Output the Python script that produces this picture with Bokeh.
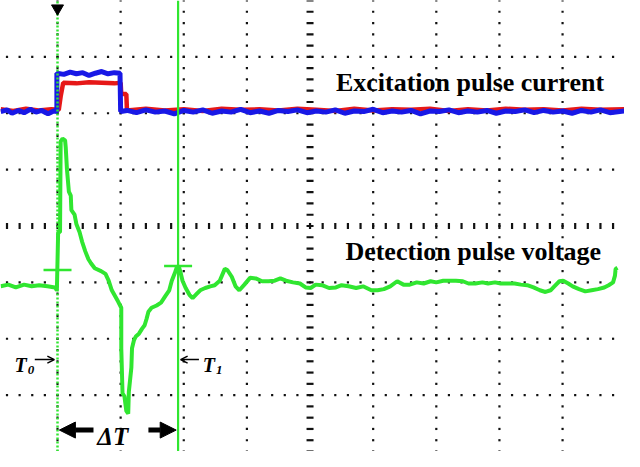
import numpy as np
from bokeh.plotting import figure
from bokeh.models import Range1d, Arrow, NormalHead, OpenHead
from bokeh.core.properties import value
from bokeh.embed import file_html
from bokeh.resources import INLINE

# ---- data (time and amplitude in screen divisions) ----
h_grid = [-3, -2, -1, 1, 2, 3]
v_grid = [-4, -3, -2, -1, 1, 2, 3, 4]

blue_t = [-4.90, -4.80, -4.72, -4.62, -4.53, -4.43, -4.34, -4.25, -4.15, -4.06, -4.01,
          -4.01, -3.90, -3.80, -3.70, -3.60, -3.50, -3.40, -3.30, -3.20, -3.10, -3.01,
          -3.00, -2.90, -2.75, -2.60, -2.45, -2.30, -2.15, -2.00, -1.85, -1.70, -1.55,
          -1.40, -1.25, -1.10, -0.95, -0.80, -0.65, -0.50, -0.35, -0.20, -0.05, 0.10,
          0.25, 0.40, 0.55, 0.70, 0.85, 1.00, 1.15, 1.30, 1.45, 1.60, 1.75, 1.90, 2.05,
          2.20, 2.35, 2.50, 2.65, 2.80, 2.95, 3.10, 3.25, 3.40, 3.55, 3.70, 3.85, 4.00,
          4.15, 4.30, 4.45, 4.60, 4.75, 4.98]
blue_v = [2.03, 2.06, 2.00, 2.05, 2.01, 2.07, 2.02, 2.05, 1.99, 2.04, 2.03,
          2.71, 2.69, 2.73, 2.70, 2.72, 2.67, 2.71, 2.74, 2.70, 2.72, 2.71,
          2.03, 2.05, 2.01, 2.06, 2.02, 2.04, 1.99, 2.05, 2.02, 2.06, 2.00,
          2.04, 2.02, 2.07, 2.01, 2.04, 2.00, 2.05, 2.03, 2.06, 2.01, 2.04,
          2.02, 2.06, 2.00, 2.04, 2.03, 2.07, 2.01, 2.04, 2.02, 2.05, 1.99, 2.04,
          2.03, 2.06, 2.01, 2.04, 2.02, 2.05, 2.00, 2.04, 2.03, 2.06, 2.01, 2.05,
          2.02, 2.04, 2.00, 2.05, 2.02, 2.06, 2.01, 2.04]

red_t = [-4.90, -4.70, -4.50, -4.30, -4.10, -3.98, -3.95, -3.91, -3.70, -3.50, -3.30,
         -3.10, -3.00, -2.99, -2.91, -2.90, -2.60, -2.30, -2.00, -1.70, -1.40, -1.10,
         -0.80, -0.50, -0.20, 0.10, 0.40, 0.70, 1.00, 1.30, 1.60, 1.90, 2.20, 2.50,
         2.80, 3.10, 3.40, 3.70, 4.00, 4.30, 4.60, 4.98]
red_v = [2.07, 2.04, 2.08, 2.05, 2.07, 2.06, 2.30, 2.54, 2.53, 2.55, 2.54,
         2.53, 2.54, 2.34, 2.34, 2.05, 2.08, 2.05, 2.07, 2.04, 2.08, 2.06,
         2.07, 2.05, 2.08, 2.06, 2.04, 2.08, 2.05, 2.07, 2.06, 2.08, 2.04, 2.07,
         2.05, 2.08, 2.06, 2.07, 2.05, 2.08, 2.06, 2.07]

green_t = [-4.90, -4.78, -4.66, -4.53, -4.41, -4.29, -4.16, -4.04, -4.01, -3.99, -3.96,
           -3.95, -3.92, -3.88, -3.87, -3.85, -3.82, -3.79, -3.78, -3.73, -3.70, -3.65,
           -3.61, -3.56, -3.51, -3.47, -3.41, -3.31, -3.24, -3.19, -3.14, -3.08, -3.04,
           -2.99, -2.99, -2.97, -2.94, -2.91, -2.88, -2.87, -2.83, -2.82, -2.79, -2.76,
           -2.71, -2.66, -2.62, -2.59, -2.56, -2.51, -2.43, -2.36, -2.29, -2.23, -2.19,
           -2.14, -2.11, -2.08, -2.05, -2.02, -1.97, -1.91, -1.86, -1.80, -1.74, -1.66,
           -1.58, -1.51, -1.43, -1.35, -1.31, -1.24, -1.18, -1.12, -1.04, -0.95, -0.86,
           -0.76, -0.66, -0.56, -0.47, -0.38, -0.27, -0.16, -0.07, 0.01, 0.09, 0.19,
           0.30, 0.41, 0.50, 0.61, 0.73, 0.84, 0.97, 1.07, 1.17, 1.27, 1.38, 1.48, 1.58,
           1.69, 1.80, 1.91, 2.00, 2.11, 2.20, 2.31, 2.42, 2.51, 2.62, 2.73, 2.82, 2.93,
           3.02, 3.13, 3.24, 3.34, 3.44, 3.54, 3.64, 3.73, 3.81, 3.87, 3.95, 4.01, 4.09,
           4.16, 4.26, 4.36, 4.46, 4.56, 4.66, 4.73, 4.80, 4.83, 4.84, 4.87]
green_v = [-1.07, -1.04, -1.09, -1.04, -1.07, -1.05, -1.07, -1.09, -1.14, -0.11, -0.11,
           1.50, 1.55, 1.52, 1.40, 1.00, 0.61, 0.54, 0.28, 0.20, 0.03, -0.11,
           -0.28, -0.45, -0.59, -0.66, -0.75, -0.80, -0.85, -0.97, -1.14, -1.26, -1.34,
           -1.45, -2.17, -2.97, -3.02, -3.28, -3.33, -2.94, -2.51, -2.17, -2.03, -1.96,
           -1.91, -1.82, -1.76, -1.65, -1.52, -1.45, -1.41, -1.36, -1.24, -1.14, -0.97,
           -0.83, -0.73, -0.71, -0.83, -0.97, -1.10, -1.22, -1.28, -1.21, -1.14, -1.10,
           -1.07, -1.05, -0.97, -0.76, -0.78, -0.90, -1.07, -1.14, -1.04, -0.92, -0.93,
           -0.98, -0.98, -0.97, -0.93, -0.97, -1.00, -1.02, -1.09, -1.10, -1.04, -1.05,
           -1.10, -1.09, -1.05, -1.07, -1.10, -1.07, -1.14, -1.14, -1.12, -1.07, -0.98, -1.04, -1.04,
           -1.00, -1.02, -0.98, -1.00, -0.97, -0.97, -0.97, -0.98, -1.02, -1.02, -1.00, -1.02, -1.00,
           -1.02, -1.02, -1.02, -1.04, -1.05, -1.09, -1.14, -1.17, -1.14, -1.07, -0.98, -0.97, -1.02,
           -1.07, -1.12, -1.16, -1.14, -1.12, -1.09, -1.05, -1.00, -0.88, -0.76, -0.74]

t0 = -4.0
t1 = -2.09
cursor_t = [-4.0, -2.09]
cursor_v = [-0.78, -0.71]

GREEN = "#30e630"
BLUE = "#1818e6"
RED = "#e61818"

X0, X1 = -4.903, 4.981
Y0, Y1 = -4.0, 4.0

p = figure(width=624, height=451, x_range=Range1d(X0, X1), y_range=Range1d(Y0, Y1),
           output_backend="svg", toolbar_location=None, x_axis_location=None, y_axis_location=None,
           min_border=0, outline_line_color=None, background_fill_color="white")
p.grid.visible = False

# ---- graticule ----
xm = np.arange(-25, 26) * 0.2
ym = np.arange(-20, 21) * 0.2
hx, hy = np.meshgrid(xm, h_grid)
p.rect(hx.ravel(), hy.ravel(), width=2.2, height=2.2, width_units="screen", height_units="screen",
       fill_color="#111111", line_color=None)
vx, vy = np.meshgrid(v_grid, ym)
p.rect(vx.ravel(), vy.ravel(), width=2.2, height=2.2, width_units="screen", height_units="screen",
       fill_color="#111111", line_color=None)
# centre lines with tick marks
p.rect(xm, np.zeros_like(xm), width=2.2, height=6, width_units="screen", height_units="screen",
       fill_color="#111111", line_color=None)
p.rect(np.zeros_like(ym), ym, width=7, height=2.2, width_units="screen", height_units="screen",
       fill_color="#111111", line_color=None)

# ---- traces ----
p.line(red_t, red_v, line_color=RED, line_width=4.5)
p.line(blue_t, blue_v, line_color=BLUE, line_width=5)
p.line(green_t, green_v, line_color=GREEN, line_width=4)

# ---- cursors ----
p.segment(x0=[t0], y0=[Y0], x1=[t0], y1=[Y1], line_color=GREEN, line_width=2.5, line_dash="2 2")
p.segment(x0=[t1], y0=[Y0], x1=[t1], y1=[Y1], line_color=GREEN, line_width=2.2)
p.scatter(cursor_t, cursor_v, marker="dash", size=28, line_color=GREEN, line_width=2.5)
p.scatter([t0], [3.86], marker="inverted_triangle", size=12, fill_color="black", line_color="black")

# ---- labels ----
serif = value("Liberation Serif")
p.text(x=[0.41, 0.56], y=[2.54, -0.454], text=["Excitation pulse current", "Detection pulse voltage"],
       text_font=serif, text_font_style="bold", text_font_size="26px", text_baseline="alphabetic",
       text_color="black")
p.text(x=[-4.68, -1.70], y=[-2.474, -2.474], text=["T", "T"], text_font=serif,
       text_font_style="bold italic", text_font_size="20px", text_baseline="alphabetic", text_color="black")
p.text(x=[-4.47, -1.49], y=[-2.55, -2.55], text=["0", "1"], text_font=serif,
       text_font_style="bold italic", text_font_size="13px", text_baseline="alphabetic", text_color="black")
p.text(x=[-3.37], y=[-3.74], text=["ΔT"], text_font=serif, text_font_style="bold italic",
       text_font_size="25px", text_baseline="alphabetic", text_color="black")

p.add_layout(Arrow(end=OpenHead(size=7, line_width=1.5), x_start=-4.36, y_start=-2.37, x_end=-4.05,
                   y_end=-2.37, line_width=1.5))
p.add_layout(Arrow(end=OpenHead(size=7, line_width=1.5), x_start=-1.76, y_start=-2.37, x_end=-2.05,
                   y_end=-2.37, line_width=1.5))
p.add_layout(Arrow(end=NormalHead(size=16, fill_color="black", line_color="black"), x_start=-3.43,
                   y_start=-3.62, x_end=-3.97, y_end=-3.62, line_width=5))
p.add_layout(Arrow(end=NormalHead(size=16, fill_color="black", line_color="black"), x_start=-2.56,
                   y_start=-3.62, x_end=-2.12, y_end=-3.62, line_width=5))

open("out.html", "w").write(file_html(p, INLINE))
